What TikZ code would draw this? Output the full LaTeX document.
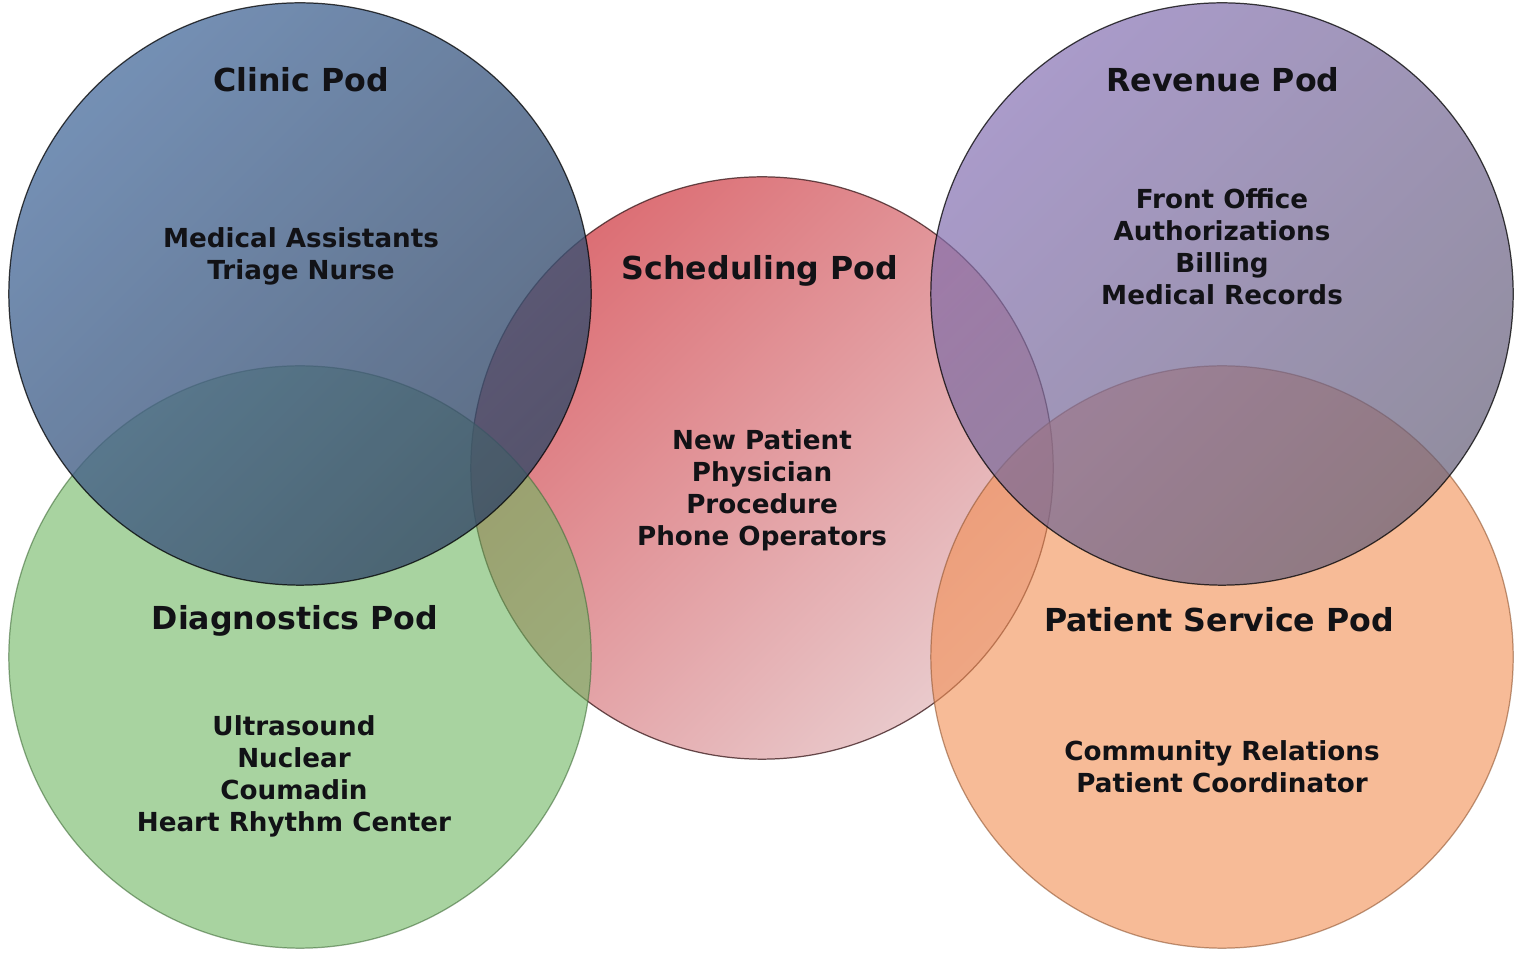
\documentclass[tikz,border=0pt]{standalone}
\usepackage{fontspec}
\setmainfont{DejaVu Sans}
\definecolor{clinicA}{RGB}{82,116,162}
\definecolor{clinicB}{RGB}{52,72,102}
\definecolor{schedA}{RGB}{220,110,116}
\definecolor{schedB}{RGB}{233,202,204}
\definecolor{revA}{RGB}{134,113,180}
\definecolor{revB}{RGB}{100,94,120}
\definecolor{diagC}{RGB}{110,183,97}
\definecolor{servC}{RGB}{242,143,83}
\definecolor{inkc}{RGB}{18,18,22}
\begin{document}
\begin{tikzpicture}[x=0.01cm,y=0.01cm,
  pod/.style={circle, minimum size=5.82cm, inner sep=0pt, line width=0.35pt},
  toppod/.style={pod, fill opacity=0.8, draw=black, draw opacity=0.75},
  lowpod/.style={pod, fill opacity=0.6, draw opacity=0.6},
  podtitle/.style={anchor=base, font=\fontsize{9}{11}\selectfont\bfseries, text=inkc},
  poditems/.style={align=center, font=\fontsize{7.45}{9.1}\selectfont\bfseries, text=inkc},
]
\useasboundingbox (0,0) rectangle (1519,952);
\fill[white] (0,0) rectangle (1519,952);

% circles, back to front; the diagonal gradients run from top left to bottom right
\node[pod, top color=schedA, bottom color=schedB, shading angle=45,
      draw=black!70!schedA, draw opacity=0.8] (sched) at (762,484) {};
\node[lowpod, fill=diagC, draw=diagC!60!black] (diag) at (300,295) {};
\node[lowpod, fill=servC, draw=servC!60!black] (serv) at (1222,295) {};
\node[toppod, top color=clinicA, bottom color=clinicB, shading angle=45] (clinic) at (300,658) {};
\node[toppod, top color=revA, bottom color=revB, shading angle=45, fill opacity=0.7] (rev) at (1222,658) {};

% titles
\node[podtitle] (clinicT) at (301,860) {Clinic Pod};
\node[podtitle] (schedT) at (760,672) {Scheduling Pod};
\node[podtitle] (revT) at (1223,860) {Revenue Pod};
\node[podtitle] (diagT) at (295,322) {Diagnostics Pod};
\node[podtitle] (servT) at (1219,320) {Patient Service Pod};

% staff lists
\node[poditems] (clinicL) at (301,696) {Medical Assistants\\Triage Nurse};
\node[poditems] (schedL) at (762,462) {New Patient\\Physician\\Procedure\\Phone Operators};
\node[poditems] (revL) at (1222,705) {Front Office\\Authorizations\\Billing\\Medical Records};
\node[poditems] (diagL) at (294,176) {Ultrasound\\Nuclear\\Coumadin\\Heart Rhythm Center};
\node[poditems] (servL) at (1222,185) {Community Relations\\Patient Coordinator};
\end{tikzpicture}
\end{document}
